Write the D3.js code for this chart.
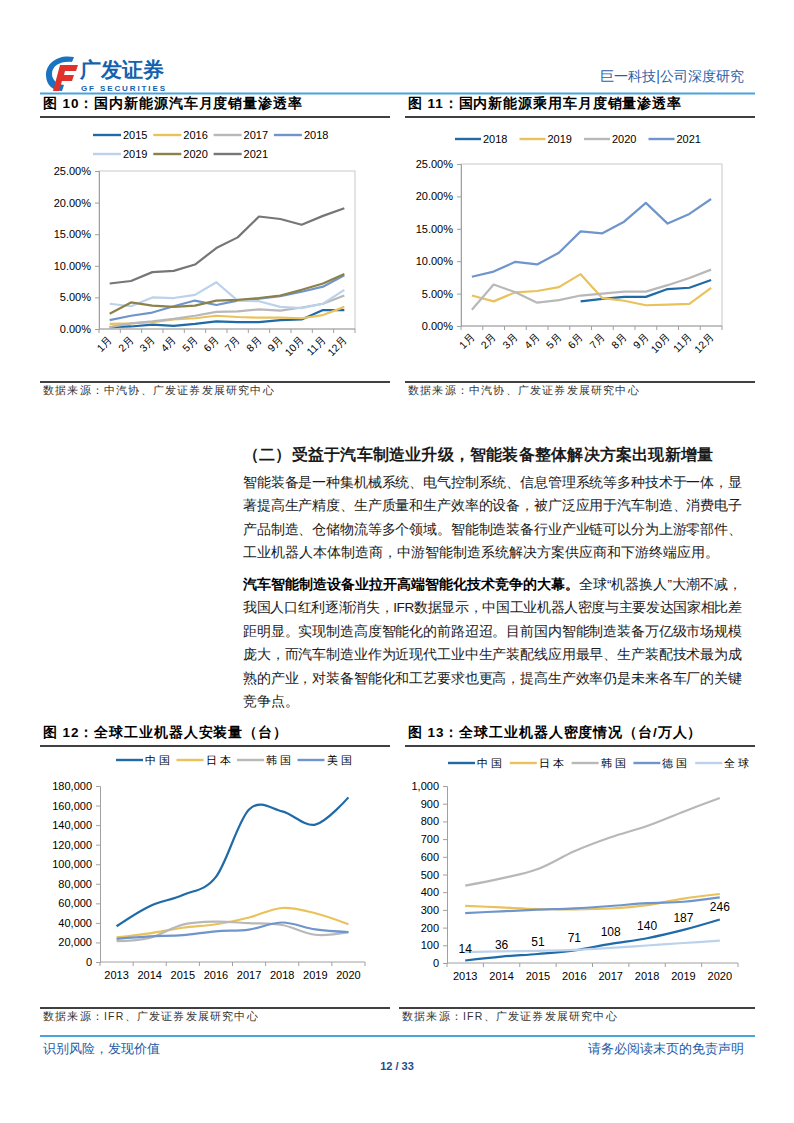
<!DOCTYPE html>
<html><head><meta charset="utf-8">
<script src="https://cdn.jsdelivr.net/npm/d3@7"></script>
<style>
body{margin:0;background:#fff;}
svg text{font-family:"Liberation Sans",Arial,sans-serif;}
</style></head><body>
<svg id="page" width="794" height="1123" xmlns="http://www.w3.org/2000/svg"></svg>
<script>
// ---------------- DATA ----------------
const months = ["1月","2月","3月","4月","5月","6月","7月","8月","9月","10月","11月","12月"];
const pctTicks = [0,5,10,15,20,25];

// Fig 10: NEV monthly penetration (%)
const nevSeries = ["2015","2016","2017","2018","2019","2020","2021"];
const nev2015 = [0.3,0.4,0.7,0.5,0.8,1.2,1.1,1.1,1.4,1.5,3.0,3.0];
const nev2016 = [0.8,0.9,1.1,1.5,1.7,2.1,1.9,1.8,1.8,1.7,2.2,3.5];
const nev2017 = [0.3,0.9,1.2,1.6,2.1,2.7,2.8,3.1,2.9,3.4,4.0,5.3];
const nev2018 = [1.4,2.1,2.6,3.6,4.5,3.8,4.5,4.8,5.2,5.9,6.7,8.5];
const nev2019 = [4.0,3.6,5.0,4.9,5.4,7.4,4.5,4.4,3.5,3.3,4.0,6.2];
const nev2020 = [2.4,4.2,3.7,3.5,3.7,4.5,4.6,4.9,5.3,6.2,7.2,8.7];
const nev2021 = [7.2,7.6,9.0,9.2,10.2,12.8,14.5,17.8,17.4,16.5,17.9,19.1];

// Fig 11: NEV passenger car monthly penetration (%)
const pcSeries = ["2018","2019","2020","2021"];
const pc2018 = [null,null,null,null,null,3.8,4.2,4.5,4.5,5.7,5.9,7.1];
const pc2019 = [4.7,3.8,5.2,5.4,6.0,8.0,4.3,3.9,3.2,3.3,3.4,5.9];
const pc2020 = [2.5,6.4,5.2,3.6,4.0,4.7,5.0,5.3,5.3,6.3,7.4,8.7];
const pc2021 = [7.6,8.4,9.9,9.5,11.3,14.6,14.3,16.1,19.0,15.8,17.3,19.6];

// Fig 12: industrial robot installations (units)
const years = ["2013","2014","2015","2016","2017","2018","2019","2020"];
const instSeries = ["中国","日本","韩国","美国"];
const instChina = [36560,57096,68556,87000,156000,154032,140492,168377];
const instJapan = [25110,29297,35023,38586,45566,55240,49908,38653];
const instKorea = [21307,24721,38285,41373,39732,37807,27873,30506];
const instUSA   = [23679,26202,27504,31404,33192,40373,33341,30576];
const instTicks = [0,20000,40000,60000,80000,100000,120000,140000,160000,180000];

// Fig 13: robot density (units / 10k employees)
const densSeries = ["中国","日本","韩国","德国","全球"];
const densChina   = [14,36,51,71,108,140,187,246];
const densJapan   = [323,314,305,303,308,327,364,390];
const densKorea   = [437,478,531,631,710,774,855,932];
const densGermany = [282,292,301,309,322,338,346,371];
const densGlobal  = [62,66,69,74,85,99,113,126];
const densTicks = [0,100,200,300,400,500,600,700,800,900,1000];

// ---------------- STYLE ----------------
const C = {
  dblue:"#1f6aa7", yellow:"#e9c25c", gray:"#b8b8b8", mblue:"#6f95cc",
  lblue:"#bcd2ea", olive:"#8c8149", dgray:"#767676"
};
const CJK = "'Noto Sans CJK SC','Noto Sans',sans-serif";
const svg = d3.select("#page");

// ---------------- HEADER ----------------
(function header(){
  const g = svg.append("g");
  // logo icon
  g.append("path").attr("d","M74,57 C58,54 46,63 46,75 C46,85 53,91 62,91 L64,85 C57,84 52,80 52,74 C52,66 60,61 72,62 Z").attr("fill","#1a73c0");
  g.append("path").attr("d","M60,65 L78,65 L76,71 L65,71 L64,75 L74,75 L72,81 L62,81 L59,91 L53,91 Z").attr("fill","#e0322a");
  g.append("text").attr("x",80).attr("y",77).attr("font-family",CJK).attr("font-weight",900)
    .attr("font-size",20.5).attr("fill","#1462ad").text("广发证券");
  g.append("text").attr("x",81).attr("y",90.5).attr("font-weight",700)
    .attr("font-size",8).attr("fill","#1462ad").attr("textLength",84).text("GF SECURITIES");
  g.append("text").attr("x",744).attr("y",81).attr("text-anchor","end").attr("font-family",CJK)
    .attr("font-size",14).attr("fill","#2a5ea8").text("巨一科技|公司深度研究");
  g.append("line").attr("x1",40).attr("x2",755).attr("y1",93.5).attr("y2",93.5).attr("stroke","#4aa3dc").attr("stroke-width",2);
})();

// ---------------- CHART HELPERS ----------------
function figTitle(x, y, x2, txt){
  svg.append("text").attr("x",x).attr("y",y).attr("font-family",CJK).attr("font-weight",900)
    .attr("font-size",13.5).attr("letter-spacing",0.9).attr("fill","#000").text(txt);
  svg.append("line").attr("x1",x-3).attr("x2",x2).attr("y1",y+9).attr("y2",y+9).attr("stroke","#000").attr("stroke-width",1.3);
}
function figSource(x, y, x2, txt){
  svg.append("line").attr("x1",x-3).attr("x2",x2).attr("y1",y-12).attr("y2",y-12).attr("stroke","#000").attr("stroke-width",1.3);
  svg.append("text").attr("x",x).attr("y",y).attr("font-family",CJK)
    .attr("font-size",10.5).attr("letter-spacing",1.2).attr("fill","#333").text(txt);
}

function lineChart(o){
  const g = svg.append("g");
  const x = d3.scaleBand().domain(o.categories).range([o.left,o.right]).padding(0);
  const cx = c => x(c) + x.bandwidth()/2;
  const y = d3.scaleLinear().domain([o.yTicks[0], o.yTicks[o.yTicks.length-1]]).range([o.bottom,o.top]);
  if(o.box){
    g.append("rect").attr("x",o.left).attr("y",o.top).attr("width",o.right-o.left)
      .attr("height",o.bottom-o.top).attr("fill","none").attr("stroke","#c9c9c9").attr("stroke-width",1);
  }
  const yg = g.append("g").attr("transform",`translate(${o.left},0)`)
    .call(d3.axisLeft(y).tickValues(o.yTicks).tickSize(4).tickPadding(4).tickFormat(o.yFormat));
  yg.select(".domain").attr("stroke","#a0a0a0");
  yg.selectAll(".tick line").attr("stroke","#a0a0a0");
  yg.selectAll(".tick text").attr("font-family","'Liberation Sans',Arial").attr("font-size",11).attr("fill","#000");
  // bottom axis line + ticks at category boundaries
  g.append("line").attr("x1",o.left).attr("x2",o.right).attr("y1",o.bottom).attr("y2",o.bottom).attr("stroke","#a0a0a0");
  g.selectAll(".xt").data(o.categories.concat(["__end"])).join("line")
    .attr("x1",(d,i)=> i<o.categories.length ? x(d) : o.right)
    .attr("x2",(d,i)=> i<o.categories.length ? x(d) : o.right)
    .attr("y1",o.bottom).attr("y2",o.bottom+4).attr("stroke","#a0a0a0");
  // x labels
  if(o.rotate){
    g.selectAll(".xl").data(o.categories).join("text")
      .attr("transform",d=>`translate(${cx(d)+1},${o.bottom+9}) rotate(-45)`)
      .attr("text-anchor","end").attr("dy","0.35em")
      .attr("font-family",CJK).attr("font-size",10.5).attr("fill","#000").text(d=>d);
  } else {
    g.selectAll(".xl").data(o.categories).join("text")
      .attr("x",d=>cx(d)).attr("y",o.bottom+17).attr("text-anchor","middle")
      .attr("font-size",11).attr("fill","#000").text(d=>d);
  }
  // series
  const line = d3.line().defined(d=>d!=null)
    .x((d,i)=>cx(o.categories[i])).y(d=>y(d)).curve(o.curve || d3.curveLinear);
  o.series.forEach(s=>{
    g.append("path").datum(s.values).attr("d",line).attr("fill","none")
      .attr("stroke",s.color).attr("stroke-width",2.2).attr("stroke-linejoin","round");
  });
  // data labels
  if(o.labelSeries){
    const s = o.labelSeries;
    g.selectAll(".dl").data(s.values).join("text")
      .attr("x",(d,i)=>cx(o.categories[i])).attr("y",d=>y(d)-8)
      .attr("text-anchor","middle").attr("font-size",12).attr("fill","#000").text(d=>d);
  }
  // legend
  o.series.forEach((s,i)=>{
    const row = Math.floor(i / o.legendPerRow), col = i % o.legendPerRow;
    const lx = o.legendX + col*o.legendStep, ly = o.legendY + row*o.legendRowH;
    g.append("line").attr("x1",lx).attr("x2",lx+o.legendLine).attr("y1",ly).attr("y2",ly)
      .attr("stroke",s.color).attr("stroke-width",2.4);
    const t = g.append("text").attr("x",lx+o.legendLine+2).attr("y",ly).attr("dy","0.36em")
      .attr("font-size",11).attr("fill","#000").text(s.name);
    if(o.legendCJK) t.attr("font-family",CJK).attr("font-size",10.5).attr("letter-spacing",3);
  });
}

const pctFmt = d => d.toFixed(2) + "%";

// ---------------- FIG 10 ----------------
figTitle(43, 108, 390, "图 10：国内新能源汽车月度销量渗透率");
lineChart({
  categories: months, yTicks: pctTicks, yFormat: pctFmt,
  left:99, right:355, top:171, bottom:329, box:true, rotate:true,
  series: [
    {name:nevSeries[0], values:nev2015, color:C.dblue},
    {name:nevSeries[1], values:nev2016, color:C.yellow},
    {name:nevSeries[2], values:nev2017, color:C.gray},
    {name:nevSeries[3], values:nev2018, color:C.mblue},
    {name:nevSeries[4], values:nev2019, color:C.lblue},
    {name:nevSeries[5], values:nev2020, color:C.olive},
    {name:nevSeries[6], values:nev2021, color:C.dgray}
  ],
  legendX:93, legendY:135, legendStep:60.3, legendPerRow:4, legendRowH:19, legendLine:28
});
figSource(43, 394, 390, "数据来源：中汽协、广发证券发展研究中心");

// ---------------- FIG 11 ----------------
figTitle(408, 108, 755, "图 11：国内新能源乘用车月度销量渗透率");
lineChart({
  categories: months, yTicks: pctTicks, yFormat: pctFmt,
  left:461, right:722, top:164, bottom:326, box:true, rotate:true,
  series: [
    {name:pcSeries[0], values:pc2018, color:C.dblue},
    {name:pcSeries[1], values:pc2019, color:C.yellow},
    {name:pcSeries[2], values:pc2020, color:C.gray},
    {name:pcSeries[3], values:pc2021, color:C.mblue}
  ],
  legendX:455, legendY:139, legendStep:64.5, legendPerRow:4, legendRowH:19, legendLine:26
});
figSource(408, 394, 755, "数据来源：中汽协、广发证券发展研究中心");

// ---------------- TEXT BLOCK ----------------
(function textBlock(){
  const g = svg.append("g").attr("font-family",CJK).attr("fill","#1a1a1a");
  const X = 243, FULL = 499, LH = 23.4;
  g.append("text").attr("x",X).attr("y",460).attr("font-weight",900).attr("font-size",15.5)
    .attr("textLength",470).attr("lengthAdjust","spacing")
    .text("（二）受益于汽车制造业升级，智能装备整体解决方案出现新增量");
  const p1 = [
    "智能装备是一种集机械系统、电气控制系统、信息管理系统等多种技术于一体，显",
    "著提高生产精度、生产质量和生产效率的设备，被广泛应用于汽车制造、消费电子",
    "产品制造、仓储物流等多个领域。智能制造装备行业产业链可以分为上游零部件、",
    "工业机器人本体制造商，中游智能制造系统解决方案供应商和下游终端应用。"
  ];
  p1.forEach((t,i)=>{
    const el = g.append("text").attr("x",X).attr("y",487+i*LH).attr("font-size",13.6).text(t);
    if(i<p1.length-1) el.attr("textLength",FULL).attr("lengthAdjust","spacing");
  });
  const y2 = 589;
  const l1 = g.append("text").attr("x",X).attr("y",y2).attr("font-size",13.6)
    .attr("textLength",FULL).attr("lengthAdjust","spacing");
  l1.append("tspan").attr("font-weight",900).attr("fill","#000").text("汽车智能制造设备业拉开高端智能化技术竞争的大幕。");
  l1.append("tspan").text("全球“机器换人”大潮不减，");
  const p2 = [
    "我国人口红利逐渐消失，IFR数据显示，中国工业机器人密度与主要发达国家相比差",
    "距明显。实现制造高度智能化的前路迢迢。目前国内智能制造装备万亿级市场规模",
    "庞大，而汽车制造业作为近现代工业中生产装配线应用最早、生产装配技术最为成",
    "熟的产业，对装备智能化和工艺要求也更高，提高生产效率仍是未来各车厂的关键",
    "竞争点。"
  ];
  p2.forEach((t,i)=>{
    const el = g.append("text").attr("x",X).attr("y",y2+(i+1)*LH).attr("font-size",13.6).text(t);
    if(i<p2.length-1) el.attr("textLength",FULL).attr("lengthAdjust","spacing");
  });
})();

// ---------------- FIG 12 ----------------
figTitle(43, 737, 390, "图 12：全球工业机器人安装量（台）");
lineChart({
  categories: years, yTicks: instTicks, yFormat: d3.format(","),
  left:100, right:365, top:786, bottom:962, box:false, rotate:false,
  curve: d3.curveCardinal.tension(0),
  series: [
    {name:instSeries[0], values:instChina, color:C.dblue},
    {name:instSeries[1], values:instJapan, color:C.yellow},
    {name:instSeries[2], values:instKorea, color:C.gray},
    {name:instSeries[3], values:instUSA,   color:C.mblue}
  ],
  legendX:116, legendY:760, legendStep:60.5, legendPerRow:4, legendRowH:19, legendLine:27, legendCJK:true
});
figSource(43, 1020, 390, "数据来源：IFR、广发证券发展研究中心");

// ---------------- FIG 13 ----------------
figTitle(408, 737, 755, "图 13：全球工业机器人密度情况（台/万人）");
lineChart({
  categories: years, yTicks: densTicks, yFormat: d3.format(","),
  left:447, right:738, top:786, bottom:963, box:false, rotate:false,
  curve: d3.curveCardinal.tension(0),
  series: [
    {name:densSeries[0], values:densChina,   color:C.dblue},
    {name:densSeries[1], values:densJapan,   color:C.yellow},
    {name:densSeries[2], values:densKorea,   color:C.gray},
    {name:densSeries[3], values:densGermany, color:C.mblue},
    {name:densSeries[4], values:densGlobal,  color:C.lblue}
  ],
  labelSeries: {values:densChina},
  legendX:448, legendY:763, legendStep:61.8, legendPerRow:5, legendRowH:19, legendLine:27, legendCJK:true
});
figSource(402, 1020, 755, "数据来源：IFR、广发证券发展研究中心");

// ---------------- FOOTER ----------------
(function footer(){
  svg.append("line").attr("x1",40).attr("x2",755).attr("y1",1036).attr("y2",1036).attr("stroke","#4aa3dc").attr("stroke-width",2);
  svg.append("text").attr("x",43).attr("y",1053).attr("font-family",CJK).attr("font-size",12.5)
    .attr("fill","#1d5aa5").text("识别风险，发现价值");
  svg.append("text").attr("x",744).attr("y",1053).attr("text-anchor","end").attr("font-family",CJK)
    .attr("font-size",12.5).attr("fill","#1d5aa5").text("请务必阅读末页的免责声明");
  svg.append("text").attr("x",397).attr("y",1070).attr("text-anchor","middle").attr("font-weight",700)
    .attr("font-size",11).attr("fill","#1d4e8f").text("12 / 33");
})();
</script>
</body></html>
